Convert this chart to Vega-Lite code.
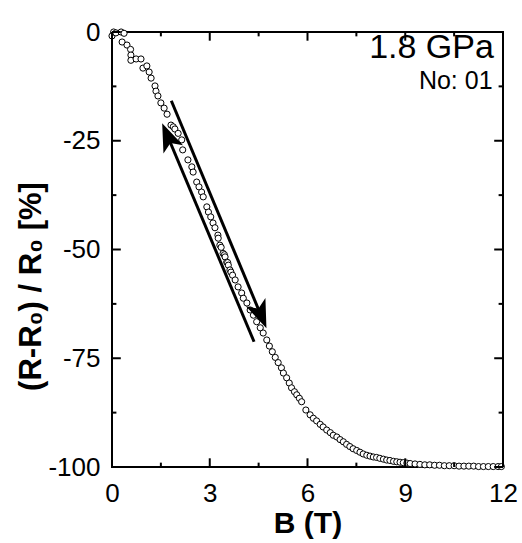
{
  "$schema": "https://vega.github.io/schema/vega-lite/v6.json",
  "width": 391,
  "height": 435,
  "autosize": {"type": "none"},
  "padding": {"left": 112, "top": 32, "right": 19, "bottom": 76},
  "background": "white",
  "config": {"view": {"stroke": "black", "strokeWidth": 2}, "font": "Liberation Sans"},
  "datasets": {
    "xmajor": [{"t": 0}, {"t": 3}, {"t": 6}, {"t": 9}, {"t": 12}],
    "xminor": [{"t": 1.5}, {"t": 4.5}, {"t": 7.5}, {"t": 10.5}],
    "ymajor": [{"t": 0}, {"t": -25}, {"t": -50}, {"t": -75}, {"t": -100}],
    "yminor": [{"t": -12.5}, {"t": -37.5}, {"t": -62.5}, {"t": -87.5}]
  },
  "layer": [
    {
      "data": {"values": [
        {"B": 0, "R": -0.9}, {"B": 0.05, "R": 0}, {"B": 0.12, "R": -0.2}, {"B": 0.28, "R": 0}, {"B": 0.37, "R": -0.3},
        {"B": 0.31, "R": -2.3}, {"B": 0.46, "R": -3}, {"B": 0.57, "R": -4}, {"B": 0.58, "R": -5.3}, {"B": 0.58, "R": -6.5},
        {"B": 0.74, "R": -6.2}, {"B": 0.89, "R": -6.2}, {"B": 0.95, "R": -8.3}, {"B": 1.07, "R": -7.8}, {"B": 1.14, "R": -9.2},
        {"B": 1.2, "R": -10.6}, {"B": 1.32, "R": -12.4}, {"B": 1.35, "R": -13.6}, {"B": 1.41, "R": -14.7}, {"B": 1.5, "R": -16.3},
        {"B": 1.6, "R": -17.5}, {"B": 1.69, "R": -18.9}, {"B": 1.81, "R": -21.4}, {"B": 1.88, "R": -21.8}, {"B": 1.93, "R": -22.3},
        {"B": 2.03, "R": -23.3}, {"B": 2.14, "R": -24.8}, {"B": 2.17, "R": -27.1}, {"B": 2.33, "R": -29.4}, {"B": 2.45, "R": -31},
        {"B": 2.49, "R": -32.2}, {"B": 2.6, "R": -34.5}, {"B": 2.67, "R": -35.6}, {"B": 2.75, "R": -36.8}, {"B": 2.8, "R": -37.9},
        {"B": 2.91, "R": -40.2}, {"B": 2.96, "R": -41.4}, {"B": 3.03, "R": -42.5}, {"B": 3.1, "R": -43.9}, {"B": 3.16, "R": -45},
        {"B": 3.25, "R": -46.7}, {"B": 3.26, "R": -47.4}, {"B": 3.31, "R": -49}, {"B": 3.35, "R": -49.5}, {"B": 3.41, "R": -50.9},
        {"B": 3.45, "R": -51.2}, {"B": 3.47, "R": -51.7}, {"B": 3.52, "R": -52.9}, {"B": 3.55, "R": -53}, {"B": 3.57, "R": -53.6},
        {"B": 3.62, "R": -54.7}, {"B": 3.65, "R": -55.2}, {"B": 3.7, "R": -55.9}, {"B": 3.78, "R": -57}, {"B": 3.87, "R": -58.6},
        {"B": 3.98, "R": -60}, {"B": 4.03, "R": -61.2}, {"B": 4.14, "R": -62.3}, {"B": 4.24, "R": -63.9}, {"B": 4.34, "R": -65.1},
        {"B": 4.44, "R": -66.6}, {"B": 4.55, "R": -68}, {"B": 4.64, "R": -69.2}, {"B": 4.75, "R": -70.8}, {"B": 4.83, "R": -72.2},
        {"B": 4.92, "R": -73.5}, {"B": 5.01, "R": -74.8}, {"B": 5.1, "R": -76}, {"B": 5.2, "R": -77.2}, {"B": 5.26, "R": -78.4},
        {"B": 5.36, "R": -79.5}, {"B": 5.44, "R": -80.7}, {"B": 5.51, "R": -81.8}, {"B": 5.6, "R": -82.7}, {"B": 5.67, "R": -83.4},
        {"B": 5.75, "R": -84.2}, {"B": 5.82, "R": -85}, {"B": 5.95, "R": -86.9}, {"B": 6.08, "R": -88}, {"B": 6.18, "R": -88.8},
        {"B": 6.28, "R": -89.4}, {"B": 6.39, "R": -90.2}, {"B": 6.48, "R": -90.8}, {"B": 6.59, "R": -91.5}, {"B": 6.7, "R": -92.1},
        {"B": 6.79, "R": -92.7}, {"B": 6.9, "R": -93.1}, {"B": 7.0, "R": -93.7}, {"B": 7.1, "R": -94.2}, {"B": 7.2, "R": -94.8},
        {"B": 7.3, "R": -95.3}, {"B": 7.4, "R": -95.8}, {"B": 7.51, "R": -96.2}, {"B": 7.61, "R": -96.6}, {"B": 7.71, "R": -97},
        {"B": 7.82, "R": -97.3}, {"B": 7.92, "R": -97.5}, {"B": 8.02, "R": -97.7}, {"B": 8.12, "R": -97.8}, {"B": 8.22, "R": -98},
        {"B": 8.33, "R": -98.2}, {"B": 8.43, "R": -98.4}, {"B": 8.53, "R": -98.5}, {"B": 8.64, "R": -98.7}, {"B": 8.74, "R": -98.8},
        {"B": 8.84, "R": -98.9}, {"B": 8.94, "R": -99}, {"B": 9.05, "R": -99.1}, {"B": 9.15, "R": -99.2}, {"B": 9.3, "R": -99.3},
        {"B": 9.45, "R": -99.4}, {"B": 9.6, "R": -99.5}, {"B": 9.75, "R": -99.5}, {"B": 9.9, "R": -99.6}, {"B": 10.05, "R": -99.6},
        {"B": 10.2, "R": -99.7}, {"B": 10.35, "R": -99.7}, {"B": 10.5, "R": -99.7}, {"B": 10.65, "R": -99.8}, {"B": 10.8, "R": -99.8},
        {"B": 10.95, "R": -99.8}, {"B": 11.1, "R": -99.8}, {"B": 11.25, "R": -99.9}, {"B": 11.4, "R": -99.9}, {"B": 11.55, "R": -99.9},
        {"B": 11.7, "R": -99.9}, {"B": 11.85, "R": -99.9}, {"B": 11.95, "R": -99.9}
      ]},
      "mark": {"type": "point", "shape": "circle", "filled": true, "fill": "white", "stroke": "black", "strokeWidth": 1, "size": 38, "opacity": 1},
      "encoding": {
        "x": {"field": "B", "type": "quantitative", "scale": {"domain": [0, 12], "nice": false, "zero": false},
          "axis": {"orient": "bottom", "values": [0, 3, 6, 9, 12],
            "labelExpr": "'' + datum.value", "ticks": false, "domain": false,
            "labelFontSize": 26, "labelColor": "black", "labelPadding": 13, "labelFlush": false, "labelOverlap": false, "labelBound": false,
            "title": "B (T)", "titleFontSize": 30, "titleFontWeight": "bold", "titleColor": "black", "titleBaseline": "alphabetic", "titleY": 65, "titleX": 195.5, "titleAlign": "center", "grid": false}},
        "y": {"field": "R", "type": "quantitative", "scale": {"domain": [-100, 0], "nice": false, "zero": false},
          "axis": {"orient": "left", "values": [0, -25, -50, -75, -100],
            "labelExpr": "'' + datum.value", "ticks": false, "domain": false,
            "labelFontSize": 26, "labelColor": "black", "labelPadding": 12, "labelFlush": false, "labelOverlap": false, "labelBound": false,
            "title": "(R-R₀) / R₀ [%]", "titleFontSize": 31, "titleFontWeight": "bold", "titleColor": "black", "titleAngle": 270,
            "titleBaseline": "alphabetic", "titleAlign": "center", "titleX": -72, "titleY": 254, "grid": false}}
      }
    },
    {
      "data": {"name": "xmajor"},
      "mark": {"type": "rule", "strokeWidth": 2, "color": "black"},
      "encoding": {"x": {"field": "t", "type": "quantitative"}, "y": {"datum": -100}, "y2": {"datum": -98}}
    },
    {
      "data": {"name": "xmajor"},
      "mark": {"type": "rule", "strokeWidth": 2, "color": "black"},
      "encoding": {"x": {"field": "t", "type": "quantitative"}, "y": {"datum": 0}, "y2": {"datum": -2}}
    },
    {
      "data": {"name": "xminor"},
      "mark": {"type": "rule", "strokeWidth": 2, "color": "black"},
      "encoding": {"x": {"field": "t", "type": "quantitative"}, "y": {"datum": -100}, "y2": {"datum": -99}}
    },
    {
      "data": {"name": "xminor"},
      "mark": {"type": "rule", "strokeWidth": 2, "color": "black"},
      "encoding": {"x": {"field": "t", "type": "quantitative"}, "y": {"datum": 0}, "y2": {"datum": -1}}
    },
    {
      "data": {"name": "ymajor"},
      "mark": {"type": "rule", "strokeWidth": 2, "color": "black"},
      "encoding": {"y": {"field": "t", "type": "quantitative"}, "x": {"datum": 0}, "x2": {"datum": 0.27}}
    },
    {
      "data": {"name": "ymajor"},
      "mark": {"type": "rule", "strokeWidth": 2, "color": "black"},
      "encoding": {"y": {"field": "t", "type": "quantitative"}, "x": {"datum": 12}, "x2": {"datum": 11.73}}
    },
    {
      "data": {"name": "yminor"},
      "mark": {"type": "rule", "strokeWidth": 2, "color": "black"},
      "encoding": {"y": {"field": "t", "type": "quantitative"}, "x": {"datum": 0}, "x2": {"datum": 0.135}}
    },
    {
      "data": {"name": "yminor"},
      "mark": {"type": "rule", "strokeWidth": 2, "color": "black"},
      "encoding": {"y": {"field": "t", "type": "quantitative"}, "x": {"datum": 12}, "x2": {"datum": 11.865}}
    },
    {
      "data": {"values": [{}]},
      "mark": {"type": "rule", "strokeWidth": 3, "color": "black"},
      "encoding": {
        "x": {"datum": 1.66, "type": "quantitative"},
        "y": {"datum": -23.1, "type": "quantitative"},
        "x2": {"datum": 4.36},
        "y2": {"datum": -71.2}
      }
    },
    {
      "data": {"values": [{}]},
      "mark": {"type": "rule", "strokeWidth": 3, "color": "black"},
      "encoding": {
        "x": {"datum": 1.82, "type": "quantitative"},
        "y": {"datum": -15.8, "type": "quantitative"},
        "x2": {"datum": 4.62},
        "y2": {"datum": -66}
      }
    },
    {
      "data": {"values": [{}]},
      "mark": {"type": "point", "shape": "M0,0 L0.75,2 L0,1.5 L-0.75,2 Z", "filled": true, "color": "black", "opacity": 1, "size": 800, "angle": 337},
      "encoding": {
        "x": {"datum": 1.54, "type": "quantitative"},
        "y": {"datum": -21, "type": "quantitative"}
      }
    },
    {
      "data": {"values": [{}]},
      "mark": {"type": "point", "shape": "M0,0 L0.75,2 L0,1.5 L-0.75,2 Z", "filled": true, "color": "black", "opacity": 1, "size": 800, "angle": 157.5},
      "encoding": {
        "x": {"datum": 4.74, "type": "quantitative"},
        "y": {"datum": -68.1, "type": "quantitative"}
      }
    },
    {
      "data": {"values": [{}]},
      "mark": {"type": "text", "text": "1.8 GPa", "fontSize": 34, "align": "right", "baseline": "alphabetic", "fill": "black", "font": "Liberation Sans"},
      "encoding": {
        "x": {"datum": 11.72, "type": "quantitative"},
        "y": {"datum": -5.9, "type": "quantitative"}
      }
    },
    {
      "data": {"values": [{}]},
      "mark": {"type": "text", "text": "No: 01", "fontSize": 25, "align": "right", "baseline": "alphabetic", "fill": "black", "font": "Liberation Sans"},
      "encoding": {
        "x": {"datum": 11.68, "type": "quantitative"},
        "y": {"datum": -13, "type": "quantitative"}
      }
    }
  ]
}
